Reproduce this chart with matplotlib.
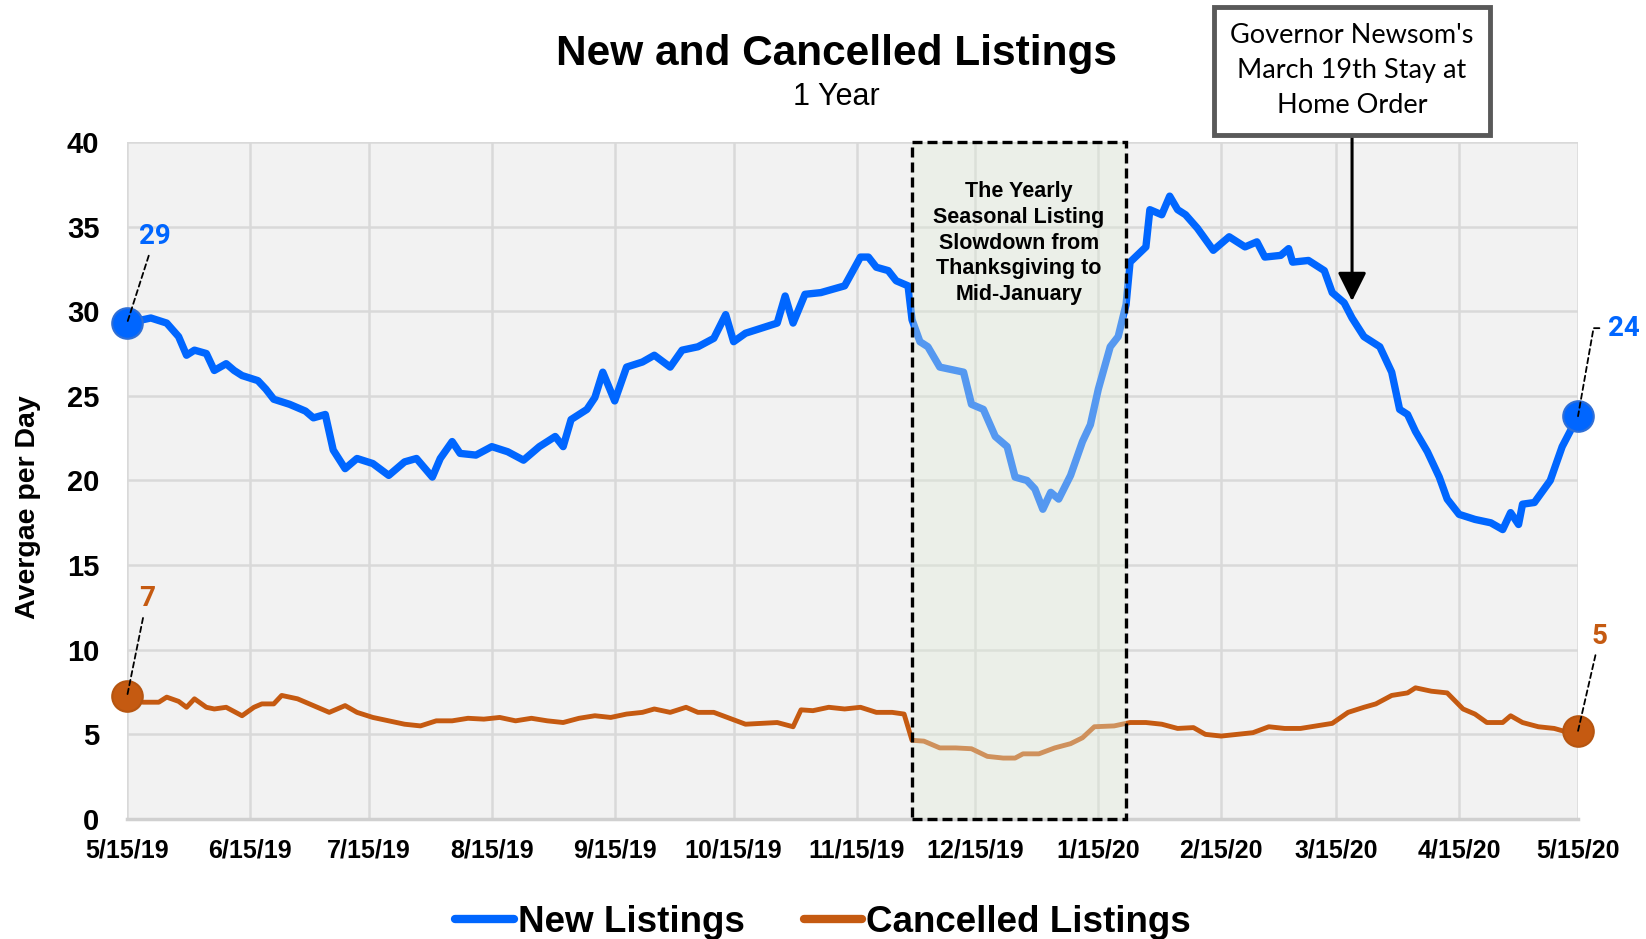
import pandas as pd
import matplotlib.pyplot as plt
import matplotlib.dates as mdates
from matplotlib.patches import Rectangle

# days since 5/15/19 and values
start = pd.Timestamp("2019-05-15")
new_days = [0, 6, 10, 13, 15, 17, 20, 22, 25, 27, 29, 33, 35, 37, 41, 45, 47, 50, 52, 55,
            58, 62, 66, 70, 73, 77, 79, 82, 84, 88, 92, 96, 100, 104, 108, 110, 112, 116,
            118, 120, 123, 126, 130, 133, 137, 140, 144, 148, 151, 153, 156, 160, 164, 166,
            168, 171, 175, 178, 181, 185, 187, 189, 192, 194, 197, 198, 200, 202, 205, 209,
            211, 213, 216, 219, 222, 224, 227, 229, 231, 233, 235, 238, 241, 243, 245, 248,
            250, 252, 253, 257, 258, 261, 263, 265, 267, 270, 274, 278, 282, 285, 287, 291,
            293, 294, 298, 302, 304, 307, 309, 312, 316, 319, 321, 323, 325, 328, 331, 333,
            336, 340, 344, 347, 349, 351, 352, 355, 359, 362, 364, 366]
new_vals = [29.3, 29.6, 29.3, 28.5, 27.4, 27.7, 27.5, 26.5, 26.9, 26.5, 26.2, 25.9, 25.4, 24.8,
            24.5, 24.1, 23.7, 23.9, 21.8, 20.7, 21.3, 21.0, 20.3, 21.1, 21.3, 20.2, 21.3, 22.3,
            21.6, 21.5, 22.0, 21.7, 21.2, 22.0, 22.6, 22.0, 23.6, 24.2, 24.9, 26.4, 24.7, 26.7,
            27.0, 27.4, 26.7, 27.7, 27.9, 28.4, 29.8, 28.2, 28.7, 29.0, 29.3, 30.9, 29.3, 31.0,
            31.1, 31.3, 31.5, 33.2, 33.2, 32.6, 32.4, 31.8, 31.5, 29.5, 28.2, 27.9, 26.7, 26.5,
            26.4, 24.5, 24.2, 22.6, 22.0, 20.2, 20.0, 19.5, 18.3, 19.3, 18.9, 20.3, 22.3, 23.3,
            25.4, 27.9, 28.5, 30.4, 32.9, 33.8, 36.0, 35.7, 36.8, 36.0, 35.7, 34.9, 33.6, 34.4,
            33.8, 34.1, 33.2, 33.3, 33.7, 32.9, 33.0, 32.4, 31.1, 30.5, 29.6, 28.5, 27.9, 26.4,
            24.2, 23.9, 22.9, 21.7, 20.2, 18.9, 18.0, 17.7, 17.5, 17.1, 18.1, 17.4, 18.6, 18.7,
            20.0, 22.0, 22.9, 23.8]

can_days = [0, 4, 8, 10, 13, 15, 17, 20, 22, 25, 29, 32, 34, 37, 39, 43, 47, 51, 55, 58,
            62, 66, 70, 74, 78, 82, 86, 90, 94, 98, 102, 106, 110, 114, 118, 122, 126, 130,
            133, 137, 141, 144, 148, 152, 156, 160, 164, 168, 170, 173, 177, 181, 185, 189,
            193, 196, 198, 201, 205, 209, 213, 217, 221, 224, 226, 230, 234, 238, 241, 244,
            249, 253, 257, 261, 265, 269, 272, 276, 280, 284, 288, 292, 296, 300, 304, 308,
            312, 315, 319, 323, 325, 329, 333, 337, 340, 343, 347, 349, 352, 356, 360, 363, 366]
can_vals = [7.25, 6.9, 6.9, 7.2, 6.95, 6.6, 7.1, 6.6, 6.5, 6.6, 6.1, 6.6, 6.8, 6.8, 7.3, 7.1,
            6.7, 6.3, 6.7, 6.3, 6.0, 5.8, 5.6, 5.5, 5.8, 5.8, 5.95, 5.9, 6.0, 5.8, 5.95, 5.8,
            5.7, 5.95, 6.1, 6.0, 6.2, 6.3, 6.5, 6.3, 6.6, 6.3, 6.3, 5.95, 5.6, 5.65, 5.7, 5.45,
            6.45, 6.4, 6.6, 6.5, 6.6, 6.3, 6.3, 6.2, 4.65, 4.6, 4.2, 4.2, 4.15, 3.7, 3.6, 3.6,
            3.85, 3.85, 4.2, 4.45, 4.8, 5.45, 5.5, 5.7, 5.7, 5.6, 5.35, 5.4, 5.0, 4.9, 5.0, 5.1,
            5.45, 5.35, 5.35, 5.5, 5.65, 6.3, 6.6, 6.8, 7.3, 7.45, 7.75, 7.55, 7.45, 6.5, 6.2,
            5.7, 5.7, 6.1, 5.7, 5.45, 5.35, 5.15, 5.2]

tick_labels = ["5/15/19", "6/15/19", "7/15/19", "8/15/19", "9/15/19", "10/15/19", "11/15/19",
               "12/15/19", "1/15/20", "2/15/20", "3/15/20", "4/15/20", "5/15/20"]
slow_start, slow_end = pd.Timestamp("2019-11-29"), pd.Timestamp("2020-01-22")
order_date = pd.Timestamp("2020-03-19")

blue = "#0066ff"
orange = "#c55a11"

new_dates = start + pd.to_timedelta(new_days, unit="D")
can_dates = start + pd.to_timedelta(can_days, unit="D")
ticks = pd.to_datetime(tick_labels, format="%m/%d/%y")

plt.rcParams["font.family"] = ["Liberation Sans", "DejaVu Sans"]
fig = plt.figure(figsize=(16.46, 9.39), dpi=100)
ax = fig.add_axes([0.0772, 0.1278, 0.8815, 0.721])
ax.set_facecolor("#f2f2f2")

ax.plot(new_dates, new_vals, color=blue, lw=5.3, label="New Listings", zorder=3,
        solid_joinstyle="round", solid_capstyle="round")
ax.plot(can_dates, can_vals, color=orange, lw=3.5, label="Cancelled Listings", zorder=3,
        solid_joinstyle="round", solid_capstyle="round")

# end points
ax.plot(new_dates[[0, -1]], [new_vals[0], new_vals[-1]], "o", color=blue, ms=22,
        mec="#2f6fd6", mew=1.5, zorder=5, clip_on=False)
ax.plot(can_dates[[0, -1]], [can_vals[0], can_vals[-1]], "o", color=orange, ms=22,
        mec="#b65510", mew=1.5, zorder=5, clip_on=False)

# seasonal slowdown box
x0, x1 = mdates.date2num(slow_start), mdates.date2num(slow_end)
ax.add_patch(Rectangle((x0, 0), x1 - x0, 40, facecolor="#e0ecd8", alpha=0.38,
                       edgecolor="none", zorder=4))
ax.add_patch(Rectangle((x0, 0), x1 - x0, 40, facecolor="none", edgecolor="black",
                       lw=2.4, ls=(0, (3, 1.5)), zorder=6, clip_on=False))
ax.text((x0 + x1) / 2, 37.7, "The Yearly\nSeasonal Listing\nSlowdown from\nThanksgiving to\nMid-January",
        ha="center", va="top", fontsize=15.5, fontweight="bold", linespacing=1.3, zorder=7)

# value labels
lab_font = dict(family="Roboto", fontweight="bold", fontsize=20)
dash = dict(arrowstyle="-", ls=(0, (3, 2)), lw=1.3, color="black", shrinkA=2, shrinkB=0)
ax.annotate(f"{new_vals[0]:.0f}", xy=(new_dates[0], new_vals[0]),
            xytext=(start + pd.Timedelta(days=7), 34.4), color=blue, ha="center",
            va="center", arrowprops=dash, zorder=7, **lab_font)
ax.annotate(f"{can_vals[0]:.0f}", xy=(can_dates[0], can_vals[0]),
            xytext=(start + pd.Timedelta(days=5), 13.0), color=orange, ha="center",
            va="center", arrowprops=dash, zorder=7, **lab_font)
ax.annotate(f"{can_vals[-1]:.0f}", xy=(can_dates[-1], can_vals[-1]),
            xytext=(can_dates[-1] + pd.Timedelta(days=5.5), 10.8), color=orange,
            ha="center", va="center", arrowprops=dash, zorder=7,
            annotation_clip=False, **lab_font)
ax.annotate(f"{new_vals[-1]:.0f}", xy=(new_dates[-1], new_vals[-1]),
            xytext=(new_dates[-1] + pd.Timedelta(days=11.5), 29.0), color=blue,
            ha="center", va="center", zorder=7, annotation_clip=False,
            arrowprops=dict(arrowstyle="-", ls=(0, (3, 2)), lw=1.3, color="black",
                            shrinkA=4, shrinkB=0, connectionstyle="angle,angleA=180,angleB=80,rad=0"),
            **lab_font)

# stay at home order callout
ax.annotate("Governor Newsom's\nMarch 19th Stay at\nHome Order", xy=(order_date, 30.6),
            xytext=(order_date, 44.2), ha="center", va="center", fontsize=19.5,
            family="Lato", linespacing=1.5, annotation_clip=False, zorder=8,
            bbox=dict(boxstyle="square,pad=0.6", fc="white", ec="#595959", lw=3.5),
            arrowprops=dict(arrowstyle="-|>,head_length=0.9,head_width=0.45", color="black",
                            lw=2.2, shrinkA=0, shrinkB=0))

ax.set_xlim(start, ticks[-1])
ax.set_ylim(0, 40)
ax.set_yticks(range(0, 41, 5))
ax.set_xticks(ticks)
ax.set_xticklabels(tick_labels)
ax.grid(True, color="#d9d9d9", lw=1.8)
ax.set_axisbelow(True)
for s in ["top", "right", "left"]:
    ax.spines[s].set_visible(False)
ax.spines["bottom"].set_color("#d0d0d0")
ax.spines["bottom"].set_linewidth(2.5)
ax.tick_params(length=0)
ax.tick_params(axis="x", labelsize=18, pad=14)
ax.tick_params(axis="y", labelsize=21, pad=20)
for t in ax.get_xticklabels() + ax.get_yticklabels():
    t.set_fontweight("bold")
ax.set_ylabel("Avergae per Day", fontsize=20.5, fontweight="bold")
ax.yaxis.set_label_coords(-0.059, 0.46)

fig.text(0.508, 0.943, "New and Cancelled Listings", ha="center", va="center",
         fontsize=30.5, fontweight="bold")
fig.text(0.508, 0.897, "1 Year", ha="center", va="center", fontsize=22)

leg = fig.legend(loc="lower center", bbox_to_anchor=(0.5, -0.036), ncol=2, frameon=False,
                 prop=dict(size=26.5, weight="bold"), handlelength=1.6, handletextpad=0.1,
                 columnspacing=1.6)
for h in leg.get_lines():
    h.set_linewidth(6)

fig.savefig("out.png", dpi=100)
